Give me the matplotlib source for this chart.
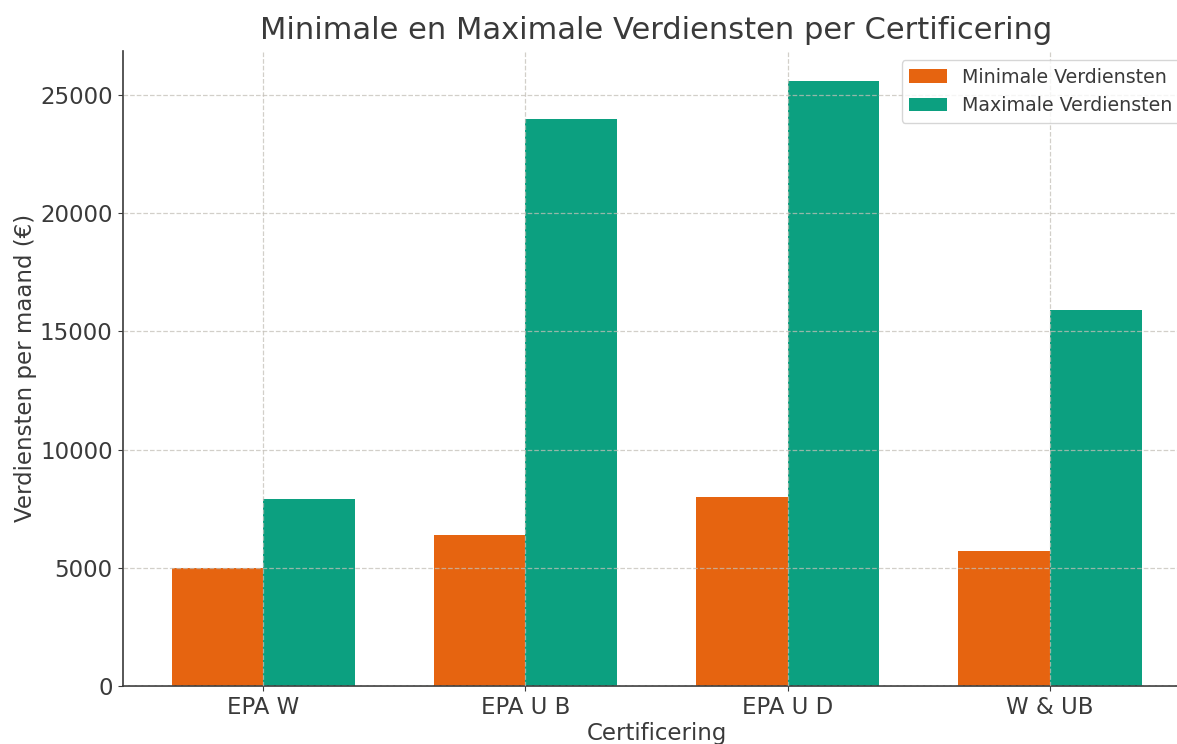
import matplotlib
matplotlib.use("Agg")
import matplotlib.pyplot as plt
import numpy as np

categories = ["EPA W", "EPA U B", "EPA U D", "W & UB"]
min_earnings = [5000, 6400, 8000, 5700]
max_earnings = [7900, 24000, 25600, 15900]

title = "Minimale en Maximale Verdiensten per Certificering"
xlabel = "Certificering"
ylabel = "Verdiensten per maand (€)"
labels = ["Minimale Verdiensten", "Maximale Verdiensten"]

text_color = "#3a3a3a"
plt.rcParams["font.family"] = ["DejaVu Sans"]
plt.rcParams["text.color"] = text_color
plt.rcParams["axes.labelcolor"] = text_color
plt.rcParams["xtick.color"] = text_color
plt.rcParams["ytick.color"] = text_color

fig = plt.figure(figsize=(11.77, 7.44), dpi=100)
W, H = 1177, 744
ax = fig.add_axes([123 / W, 1 - 686 / H, (1190 - 123) / W, (686 - 50.6) / H])

x = np.arange(len(categories))
width = 0.35
ax.bar(x - width / 2, min_earnings, width, color="#e66410", label=labels[0])
ax.bar(x + width / 2, max_earnings, width, color="#0ca080", label=labels[1])

ax.set_xticks(x)
ax.set_xticklabels(categories)
ax.tick_params(axis="both", labelsize=16.5, colors=text_color, pad=4)
ax.set_title(title, fontsize=22, color=text_color, pad=8)
ax.set_xlabel(xlabel, fontsize=16.5, labelpad=2)
ax.set_ylabel(ylabel, fontsize=16.5, labelpad=2)

ax.grid(True, linestyle="--", color="#c4c0b8", alpha=0.75, linewidth=0.9)
ax.set_axisbelow(False)

for s in ["top", "right"]:
    ax.spines[s].set_visible(False)
for s in ["left", "bottom"]:
    ax.spines[s].set_color(text_color)
    ax.spines[s].set_linewidth(1.2)

leg = ax.legend(loc="upper right", fontsize=13.7, frameon=True)
leg.get_frame().set_edgecolor("#cccccc")

fig.savefig("out.png", dpi=100)
